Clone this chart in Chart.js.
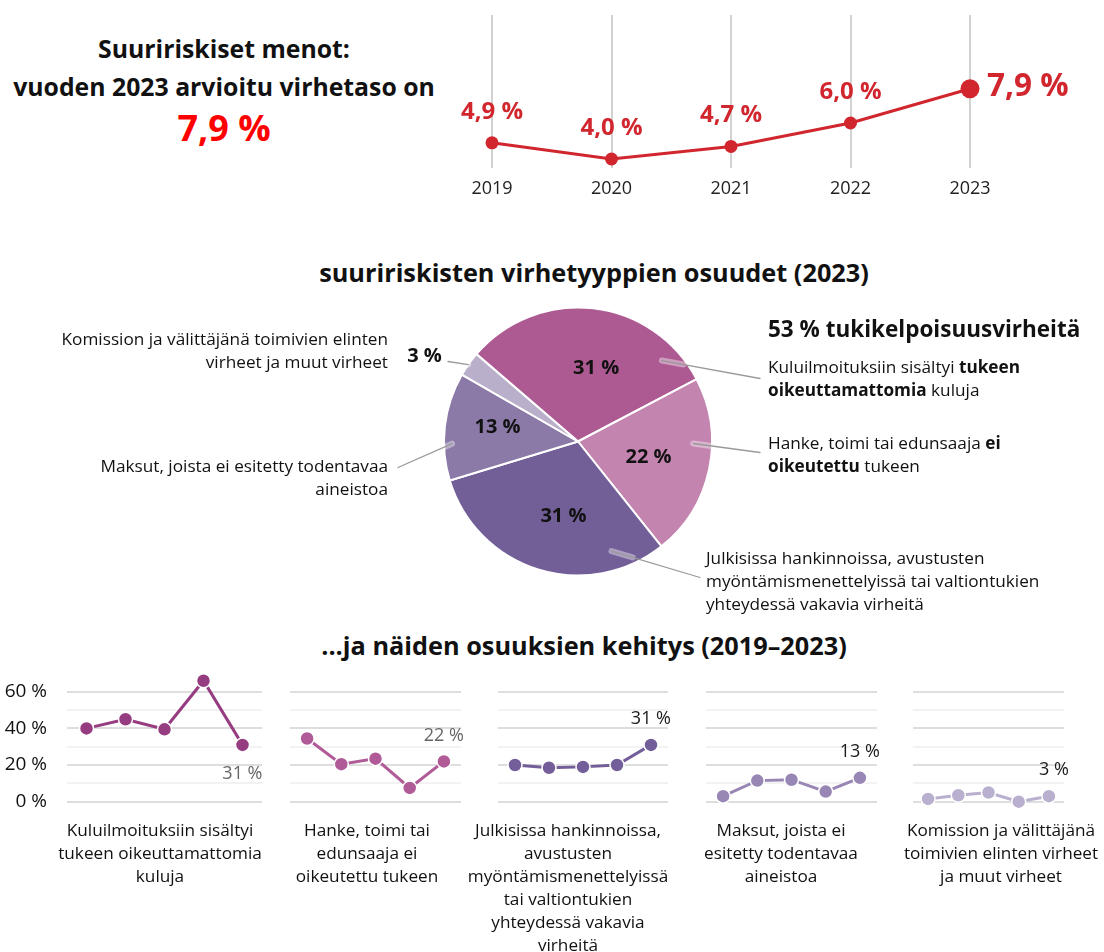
<!DOCTYPE html>
<html lang="fi">
<head>
<meta charset="utf-8">
<script src="https://cdn.jsdelivr.net/npm/chart.js@4.4.0/dist/chart.umd.min.js"></script>
<style>
  body { margin: 0; width: 1104px; height: 952px; position: relative; overflow: hidden; background: #fff;
         font-family: "Open Sans", "Noto Sans", sans-serif; color: #111; }
  canvas { position: absolute; }
  .t { position: absolute; white-space: nowrap; }
  .keski { text-align: center; }
  .oikea { text-align: right; }
  .otsikko { font-weight: 700; font-size: 25.3px; line-height: 30px; }
  .selite { font-size: 17.2px; line-height: 23px; color: #111; }
  .selite b { font-weight: 700; }
  .luokka { font-size: 17.2px; line-height: 23px; color: #111; text-align: center; }
</style>
</head>
<body>

<!-- otsikko vasemmalla ylhäällä -->
<div class="t keski" style="left:0;width:448px;top:33px;font-size:24.8px;font-weight:700;line-height:30px;">Suuririskiset menot:</div>
<div class="t keski" style="left:0;width:448px;top:71px;font-size:24.8px;font-weight:700;line-height:30px;">vuoden 2023 arvioitu virhetaso on</div>
<div class="t keski" style="left:0;width:448px;top:107px;font-size:36px;font-weight:700;line-height:42px;color:#ff0000;">7,9 %</div>

<canvas id="virhetaso" width="660" height="220" style="left:440px;top:0px;"></canvas>

<div class="t keski otsikko" style="left:294px;width:600px;top:257px;">suuririskisten virhetyyppien osuudet (2023)</div>

<canvas id="piirakka" width="400" height="299" style="left:378px;top:292px;"></canvas>

<div class="t" style="left:768px;top:314px;font-size:22.5px;font-weight:700;line-height:30px;">53 % tukikelpoisuusvirheitä</div>
<div class="t selite" style="left:768px;top:355px;">Kuluilmoituksiin sisältyi <b>tukeen</b><br><b>oikeuttamattomia</b> kuluja</div>
<div class="t selite" style="left:768px;top:431px;">Hanke, toimi tai edunsaaja <b>ei</b><br><b>oikeutettu</b> tukeen</div>
<div class="t selite" style="left:706px;top:546px;">Julkisissa hankinnoissa, avustusten<br>myöntämismenettelyissä tai valtiontukien<br>yhteydessä vakavia virheitä</div>
<div class="t selite oikea" style="left:0;width:388px;top:327px;">Komission ja välittäjänä toimivien elinten<br>virheet ja muut virheet</div>
<div class="t selite oikea" style="left:0;width:388px;top:454px;">Maksut, joista ei esitetty todentavaa<br>aineistoa</div>

<div class="t keski otsikko" style="left:284px;width:600px;top:630px;">...ja näiden osuuksien kehitys (2019–2023)</div>

<canvas id="kehitys0" width="282" height="175" style="left:0px;top:650px;"></canvas>
<canvas id="kehitys1" width="211" height="175" style="left:270px;top:650px;"></canvas>
<canvas id="kehitys2" width="210" height="175" style="left:478px;top:650px;"></canvas>
<canvas id="kehitys3" width="211" height="175" style="left:686px;top:650px;"></canvas>
<canvas id="kehitys4" width="191" height="175" style="left:893px;top:650px;"></canvas>

<div class="t luokka" style="left:40px;width:240px;top:818px;">Kuluilmoituksiin sisältyi<br>tukeen oikeuttamattomia<br>kuluja</div>
<div class="t luokka" style="left:247px;width:240px;top:818px;">Hanke, toimi tai<br>edunsaaja ei<br>oikeutettu tukeen</div>
<div class="t luokka" style="left:448px;width:240px;top:818px;">Julkisissa hankinnoissa,<br>avustusten<br>myöntämismenettelyissä<br>tai valtiontukien<br>yhteydessä vakavia<br>virheitä</div>
<div class="t luokka" style="left:661px;width:240px;top:818px;">Maksut, joista ei<br>esitetty todentavaa<br>aineistoa</div>
<div class="t luokka" style="left:881px;width:240px;top:818px;">Komission ja välittäjänä<br>toimivien elinten virheet<br>ja muut virheet</div>

<script>
// --- data ---
const vuodet = ['2019', '2020', '2021', '2022', '2023'];
const virhetaso = [4.9, 4.0, 4.7, 6.0, 7.9];

const virhetyypit = [
    'Kuluilmoituksiin sisältyi tukeen oikeuttamattomia kuluja',
    'Hanke, toimi tai edunsaaja ei oikeutettu tukeen',
    'Julkisissa hankinnoissa, avustusten myöntämismenettelyissä tai valtiontukien yhteydessä vakavia virheitä',
    'Maksut, joista ei esitetty todentavaa aineistoa',
    'Komission ja välittäjänä toimivien elinten virheet ja muut virheet'
];
const osuudet_2023 = [31, 22, 31, 13, 3];

const kehitys_kulut = [40, 45, 39.5, 66, 31];
const kehitys_hanke = [34.5, 20.5, 23.5, 7.5, 22];
const kehitys_hankinnat = [20, 18.5, 19, 20, 31];
const kehitys_maksut = [3, 11.5, 12, 5.5, 13];
const kehitys_muut = [1.5, 3.5, 5, 0, 3];

const y_askel = 10;
const y_ruudukko_max = 60;   // ylin viiva
const y_max = 70;            // tilaa pisteille viivan yläpuolella

// --- tyylit ---
const FONTTI = '"Open Sans", "Noto Sans", sans-serif';
const PUNAINEN = '#d1262e';
const PIIRAKKA_VARIT = ['#ad5a93', '#c484b0', '#735f98', '#8b7aa8', '#b9afcb'];
const KEHITYS_VARIT = ['#963c80', '#b05a97', '#735e99', '#9887b4', '#b9afce'];

function pros(v) {
    return String(v).replace('.', ',') + ' %';
}

/* Ylin kuvio: virhetaso vuosittain */
const arvoPlugin = {
    id: 'arvot',
    afterDatasetsDraw(chart) {
        const ctx = chart.ctx;
        const pisteet = chart.getDatasetMeta(0).data;
        ctx.save();
        ctx.fillStyle = PUNAINEN;
        pisteet.forEach(function (p, i) {
            const arvo = virhetaso[i].toFixed(1).replace('.', ',') + ' %';
            if (i < pisteet.length - 1) {
                ctx.font = '700 24px ' + FONTTI;
                ctx.textAlign = 'center';
                ctx.textBaseline = 'middle';
                ctx.fillText(arvo, p.x, p.y - 31);
            } else {
                ctx.font = '700 31.5px ' + FONTTI;
                ctx.textAlign = 'left';
                ctx.textBaseline = 'middle';
                ctx.fillText(arvo, p.x + 17, p.y - 2);
            }
        });
        ctx.restore();
    }
};

new Chart(document.getElementById('virhetaso'), {
    type: 'line',
    data: {
        labels: vuodet,
        datasets: [{
            data: virhetaso,
            borderColor: PUNAINEN,
            backgroundColor: PUNAINEN,
            borderWidth: 3,
            pointRadius: [6.5, 6.5, 6.5, 6.5, 9.5],
            pointBorderWidth: 0,
            clip: false
        }]
    },
    options: {
        responsive: false,
        animation: false,
        events: [],
        layout: { padding: { left: 52, right: 130, top: 15, bottom: 0 } },
        plugins: { legend: { display: false }, tooltip: { enabled: false } },
        scales: {
            x: {
                grid: { color: '#d2d2d2', lineWidth: 2, drawTicks: false },
                border: { display: false },
                ticks: { color: '#222', font: { family: FONTTI, size: 18 }, padding: 10 },
                afterFit: function (a) { a.height = 52; }
            },
            y: { display: false, min: 3.5, max: 12 }
        }
    },
    plugins: [arvoPlugin]
});

/* Piirakka: virhetyyppien osuudet 2023 */
// tekstin paikka: [kulma asteina klo 12:sta myötäpäivään, etäisyys säteen osana]
const piirakka_tekstit = [[14, 0.56], [103, 0.54], [191, 0.57], [280, 0.61], [299, 1.31]];
// viivat: [alkukulma, alkuetäisyys, loppu dx, loppu dy] keskipisteestä
const piirakka_viivat = [
    [46, 0.87, 182, -63],
    [91, 0.86, 182, 11],
    [163, 0.855, 122, 136],
    [269, 0.94, -180, 26],
    [305, 1.0, -130, -80]
];

const piirakkaPlugin = {
    id: 'piirakkaTekstit',
    afterDatasetsDraw(chart) {
        const ctx = chart.ctx;
        const kaaret = chart.getDatasetMeta(0).data;
        const cx = kaaret[0].x, cy = kaaret[0].y, r = kaaret[0].outerRadius;
        function piste(kulma, osa) {
            const a = kulma * Math.PI / 180;
            return [cx + Math.sin(a) * r * osa, cy - Math.cos(a) * r * osa];
        }
        ctx.save();
        // viivat
        piirakka_viivat.forEach(function (v) {
            const alku = piste(v[0], v[1]);
            const loppu = [cx + v[2], cy + v[3]];
            const dx = loppu[0] - alku[0], dy = loppu[1] - alku[1];
            const pit = Math.sqrt(dx * dx + dy * dy);
            ctx.lineCap = 'round';
            ctx.strokeStyle = 'rgba(255,255,255,0.4)';
            ctx.lineWidth = 6;
            ctx.beginPath();
            ctx.moveTo(alku[0], alku[1]);
            ctx.lineTo(alku[0] + dx / pit * 22, alku[1] + dy / pit * 22);
            ctx.stroke();
            ctx.strokeStyle = '#9a9a9a';
            ctx.lineWidth = 1.3;
            ctx.beginPath();
            ctx.moveTo(alku[0], alku[1]);
            ctx.lineTo(loppu[0], loppu[1]);
            ctx.stroke();
        });
        // prosentit
        ctx.fillStyle = '#111';
        ctx.font = '700 20px ' + FONTTI;
        ctx.textAlign = 'center';
        ctx.textBaseline = 'middle';
        osuudet_2023.forEach(function (v, i) {
            const p = piste(piirakka_tekstit[i][0], piirakka_tekstit[i][1]);
            ctx.fillText(v + ' %', p[0], p[1]);
        });
        ctx.restore();
    }
};

new Chart(document.getElementById('piirakka'), {
    type: 'pie',
    data: {
        labels: virhetyypit,
        datasets: [{
            data: osuudet_2023,
            backgroundColor: PIIRAKKA_VARIT,
            borderColor: '#fff',
            borderWidth: 2,
            rotation: -49.3,
            radius: 134
        }]
    },
    options: {
        responsive: false,
        animation: false,
        events: [],
        layout: { padding: 0 },
        plugins: { legend: { display: false }, tooltip: { enabled: false } }
    },
    plugins: [piirakkaPlugin]
});

/* Pienet kuviot: osuuksien kehitys 2019–2023 */
const kehitykset = [kehitys_kulut, kehitys_hanke, kehitys_hankinnat, kehitys_maksut, kehitys_muut];
const loppu_tekstit = [
    { vari: '#666', alle: true },
    { vari: '#666', alle: false },
    { vari: '#1a1a1a', alle: false },
    { vari: '#1a1a1a', alle: false },
    { vari: '#1a1a1a', alle: false }
];
// y-akselin 70 % ja 0 % kohdat kankaalla
const ALUE_YLA = 23.4;
const ALUE_ALA = 151.7;
const KANGAS_KORKEUS = 175;

function loppuPlugin(i) {
    return {
        id: 'loppu' + i,
        afterDatasetsDraw(chart) {
            const ctx = chart.ctx;
            const pisteet = chart.getDatasetMeta(0).data;
            const p = pisteet[pisteet.length - 1];
            const sarja = kehitykset[i];
            ctx.save();
            ctx.fillStyle = loppu_tekstit[i].vari;
            ctx.font = '18px ' + FONTTI;
            ctx.textAlign = 'right';
            ctx.textBaseline = 'middle';
            ctx.fillText(pros(Math.round(sarja[sarja.length - 1])), p.x + 20, loppu_tekstit[i].alle ? p.y + 29 : p.y - 26);
            ctx.restore();
        }
    };
}

// ensimmäisen pienen kuvion y-akselin tekstit (joka toinen viiva)
const yTekstiPlugin = {
    id: 'yTekstit',
    afterDraw(chart) {
        const ctx = chart.ctx;
        const y = chart.scales.y;
        ctx.save();
        ctx.fillStyle = '#111';
        ctx.font = '19px ' + FONTTI;
        ctx.textAlign = 'right';
        ctx.textBaseline = 'middle';
        y.ticks.forEach(function (t) {
            if (t.value % 20 === 0 && t.value <= y_ruudukko_max) {
                ctx.fillText(t.value + ' %', chart.chartArea.left - 20, y.getPixelForValue(t.value));
            }
        });
        ctx.restore();
    }
};

kehitykset.forEach(function (sarja, i) {
    const eka = (i === 0);
    new Chart(document.getElementById('kehitys' + i), {
        type: 'line',
        data: {
            labels: vuodet,
            datasets: [{
                data: sarja,
                borderColor: KEHITYS_VARIT[i],
                backgroundColor: KEHITYS_VARIT[i],
                borderWidth: 3,
                pointRadius: 7,
                pointBorderColor: '#fff',
                pointBorderWidth: 1.5,
                clip: false
            }]
        },
        options: {
            responsive: false,
            animation: false,
            events: [],
            layout: { padding: { left: eka ? 67 : 20, right: 20, top: ALUE_YLA, bottom: KANGAS_KORKEUS - ALUE_ALA } },
            plugins: { legend: { display: false }, tooltip: { enabled: false } },
            scales: {
                x: { display: false, offset: true },
                y: {
                    min: 0,
                    max: y_max,
                    border: { display: false },
                    grid: {
                        drawTicks: false,
                        lineWidth: 2,
                        color: function (c) {
                            if (!c.tick || c.tick.value > y_ruudukko_max) return 'rgba(0,0,0,0)';
                            return c.tick.value % 20 === 0 ? '#dedede' : '#f2f2f2';
                        }
                    },
                    ticks: { display: false, stepSize: y_askel },
                    afterFit: function (a) { a.width = 0; }
                }
            }
        },
        plugins: eka ? [loppuPlugin(i), yTekstiPlugin] : [loppuPlugin(i)]
    });
});
</script>
</body>
</html>
